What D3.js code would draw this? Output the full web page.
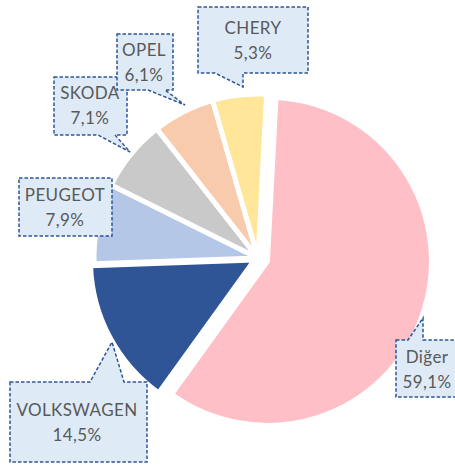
<!DOCTYPE html>
<html>
<head>
<meta charset="utf-8">
<script src="https://cdn.jsdelivr.net/npm/d3@7"></script>
<style>
  body { margin: 0; background: #fff; }
  svg { display: block; }
</style>
</head>
<body>
<div id="chart"></div>
<script>
var width = 455, height = 465;

// data
var brands = ["Diğer", "VOLKSWAGEN", "PEUGEOT", "SKODA", "OPEL", "CHERY"];
var shares = [59.1, 14.5, 7.9, 7.1, 6.1, 5.3];
var shareLabels = ["59,1%", "14,5%", "7,9%", "7,1%", "6,1%", "5,3%"];

var colors = ["#FFBFC6", "#2F5597", "#B4C7E7", "#C9C9C9", "#F8CBAD", "#FFE699"];
var explode = [10, 4, 0, 0, 0, 0];

// callout boxes: box rect, pointer base (x0,x1 on edge), tip, text centre
var callouts = [
  {x: 396, y: 340, w: 62, h: 57, side: "top", b0: 408, b1: 423, tip: [423, 318], tx: 427, ty: 357},
  {x: 10, y: 382, w: 137, h: 80, side: "top", b0: 90, b1: 124, tip: [112, 342], tx: 77, ty: 410},
  {x: 19, y: 178, w: 93, h: 58, side: null, tx: 65, ty: 195},
  {x: 54, y: 77, w: 73, h: 58, side: "bottom", b0: 98, b1: 115, tip: [130, 152], tx: 90, ty: 93},
  {x: 117, y: 34, w: 56, h: 56, side: "bottom", b0: 148, b1: 165, tip: [185, 105], tx: 144, ty: 50},
  {x: 198, y: 7, w: 110, h: 66, side: "bottom", b0: 215, b1: 243, tip: [243, 87], tx: 253, ty: 28}
];

var cx = 258, cy = 258, radius = 164;

var svg = d3.select("#chart").append("svg")
  .attr("width", width)
  .attr("height", height);

var pie = d3.pie()
  .sort(null)
  .startAngle(3 * Math.PI / 180)
  .endAngle(3 * Math.PI / 180 + 2 * Math.PI);

var arc = d3.arc().innerRadius(0).outerRadius(radius);

var arcs = pie(shares);

svg.append("g")
  .attr("transform", "translate(" + cx + "," + cy + ")")
  .selectAll("path")
  .data(arcs)
  .enter().append("path")
  .attr("d", arc)
  .attr("fill", function(d, i) { return colors[i]; })
  .attr("stroke", "#fff")
  .attr("stroke-width", 5)
  .attr("stroke-linejoin", "round")
  .attr("transform", function(d, i) {
    var a = (d.startAngle + d.endAngle) / 2;
    return "translate(" + (Math.sin(a) * explode[i]) + "," + (-Math.cos(a) * explode[i]) + ")";
  });

// callout shape path
var calloutPath = function(c) {
  var x0 = c.x, y0 = c.y, x1 = c.x + c.w, y1 = c.y + c.h;
  var p = d3.path();
  p.moveTo(x0, y0);
  if (c.side === "top") {
    p.lineTo(c.b0, y0); p.lineTo(c.tip[0], c.tip[1]); p.lineTo(c.b1, y0);
  }
  p.lineTo(x1, y0);
  p.lineTo(x1, y1);
  if (c.side === "bottom") {
    p.lineTo(c.b1, y1); p.lineTo(c.tip[0], c.tip[1]); p.lineTo(c.b0, y1);
  }
  p.lineTo(x0, y1);
  p.closePath();
  return p.toString();
};

var labels = svg.append("g");

labels.selectAll("path")
  .data(callouts)
  .enter().append("path")
  .attr("d", calloutPath)
  .attr("fill", "#DEEBF7")
  .attr("stroke", "#2F5597")
  .attr("stroke-width", 1.5)
  .attr("stroke-dasharray", "3.5,2");

var texts = labels.selectAll("text")
  .data(callouts)
  .enter().append("text")
  .attr("text-anchor", "middle")
  .attr("font-family", "Lato, 'Open Sans', sans-serif")
  .attr("font-size", 17)
  .attr("letter-spacing", 0.4)
  .attr("fill", "#595959");

texts.append("tspan")
  .attr("x", function(d) { return d.tx; })
  .attr("y", function(d) { return d.ty; })
  .attr("dy", "0.35em")
  .text(function(d, i) { return brands[i]; });

texts.append("tspan")
  .attr("x", function(d) { return d.tx; })
  .attr("y", function(d) { return d.ty + 25; })
  .attr("dy", "0.35em")
  .text(function(d, i) { return shareLabels[i]; });
</script>
</body>
</html>
